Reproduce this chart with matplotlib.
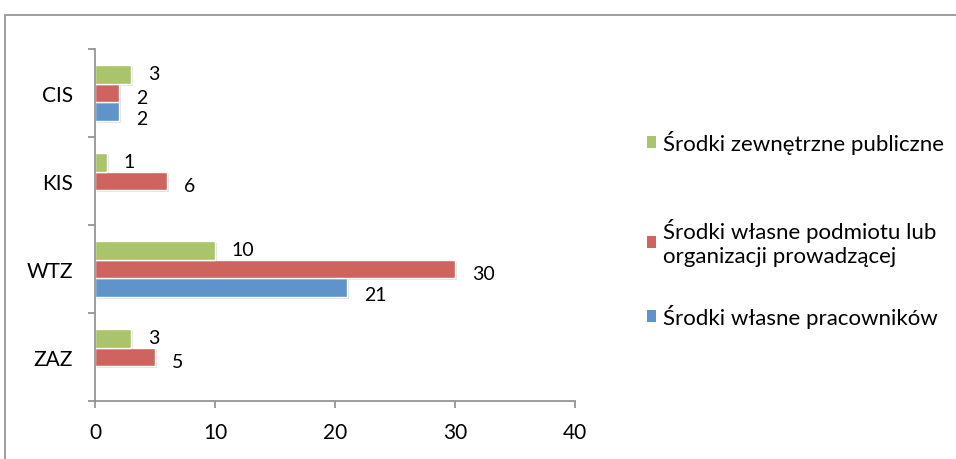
import matplotlib.pyplot as plt
import matplotlib.patheffects as pe
from matplotlib.patches import Rectangle
import numpy as np

plt.rcParams['font.family'] = ['Lato', 'DejaVu Sans']

categories = ['ZAZ', 'WTZ', 'KIS', 'CIS']
pracownikow = [0, 21, 0, 2]
podmiotu = [5, 30, 6, 2]
publiczne = [3, 10, 1, 3]

series = [
    ('Środki własne pracowników', pracownikow, '#5E94C9', -0.21, 5),
    ('Środki własne podmiotu lub\norganizacji prowadzącej', podmiotu, '#CD645E', 0.0, 3),
    ('Środki zewnętrzne publiczne', publiczne, '#A9C46A', 0.21, -1),
]

fig = plt.figure(figsize=(9.56, 4.6), dpi=100)
ax = fig.add_axes([95/956, 1-402/460, 480/956, 352/460])

# outer chart frame
fig.patches.append(Rectangle((5/956, -0.1), 1.0, 0.1 + 1 - 16/460, transform=fig.transFigure,
                             fill=False, edgecolor='#8c8c8c', lw=1.2))

y = np.arange(len(categories))
shadow = [pe.SimplePatchShadow(offset=(1.5, -1.5), shadow_rgbFace='#999999', alpha=0.3), pe.Normal()]
for name, vals, col, off, dy in series:
    bars = ax.barh(y + off, vals, height=0.21, color=col, edgecolor='white', lw=1, label=name)
    for b, v in zip(bars, vals):
        if v == 0:
            b.set_visible(False)
            continue
        b.set_path_effects(shadow)
        ax.annotate(str(v), (v, b.get_y() + b.get_height()/2), xytext=(12, -dy),
                    textcoords='offset points', ha='left', va='center', fontsize=14)

ax.set_xlim(0, 40)
ax.set_ylim(-0.5, 3.5)
ax.set_xticks([0, 10, 20, 30, 40])
ax.set_yticks(y)
ax.set_yticklabels(categories)
ax.set_yticks(np.arange(-0.5, 4, 1), minor=True)
ax.tick_params(axis='y', which='major', length=0, pad=16, labelsize=15)
ax.tick_params(axis='y', which='minor', length=5, color='#8c8c8c', width=1.2)
ax.tick_params(axis='x', length=5, color='#8c8c8c', width=1.2, pad=10, labelsize=15)
for s in ['top', 'right']:
    ax.spines[s].set_visible(False)
for s in ['left', 'bottom']:
    ax.spines[s].set_color('#8c8c8c')
    ax.spines[s].set_linewidth(1.2)

# legend entries, top to bottom
legend_y = [143, 243, 317]
for (name, vals, col, off, dy), ly in zip(series[::-1], legend_y):
    h = Rectangle((0, 0), 1, 1, facecolor=col)
    leg = fig.legend([h], [name], loc='center left', bbox_to_anchor=(647/956, 1 - ly/460),
                     frameon=False, fontsize=16, borderpad=0, borderaxespad=0,
                     handlelength=0.42, handleheight=0.42, handletextpad=0.3)

fig.savefig('out.png', dpi=100)
